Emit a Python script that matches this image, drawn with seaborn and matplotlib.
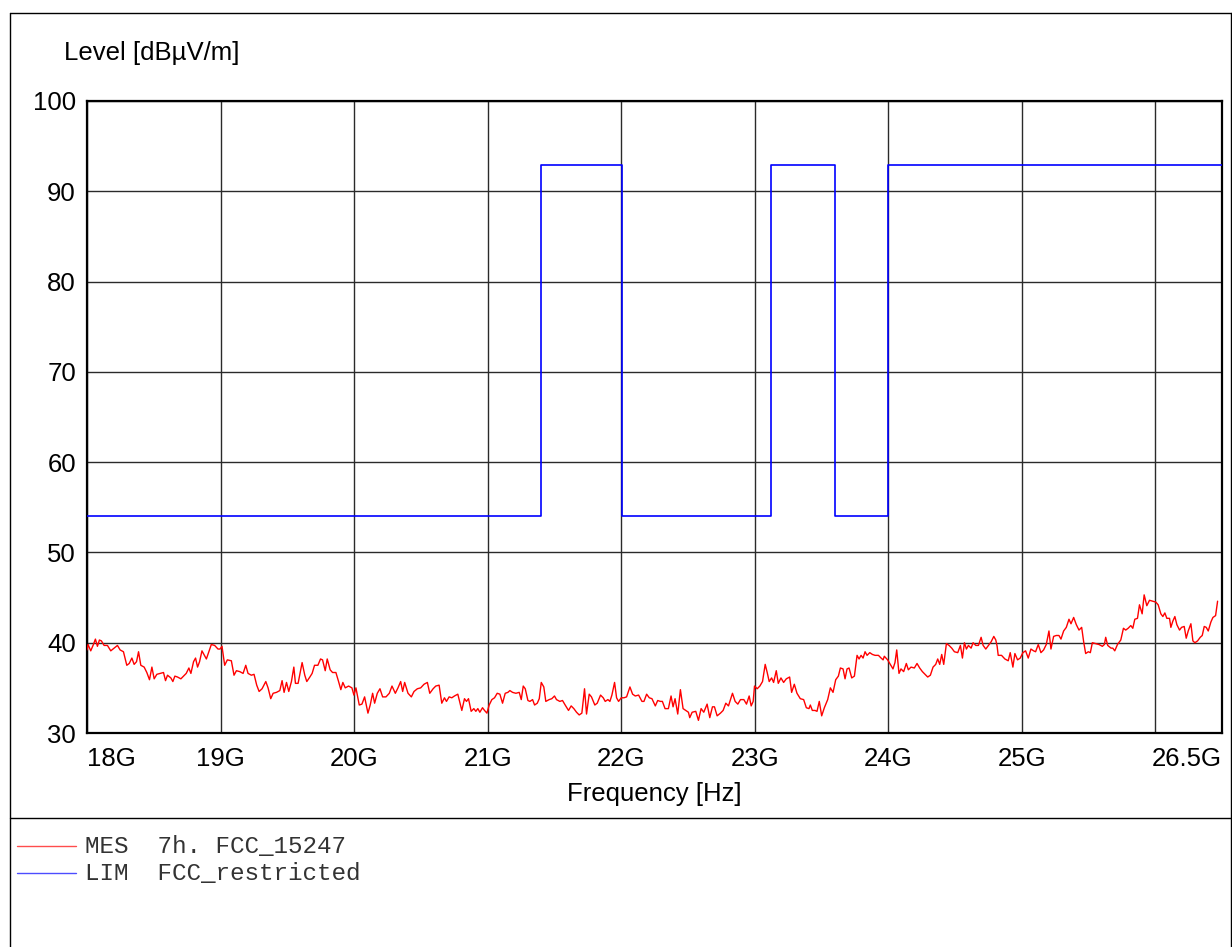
import matplotlib
matplotlib.use("Agg")
import matplotlib.pyplot as plt
from matplotlib.lines import Line2D
import seaborn as sns
import pandas as pd

# Measured emission trace (frequency in GHz, level in dBµV/m)
mes_freq = [
    18.000, 18.008, 18.028, 18.048, 18.063, 18.078, 18.093, 18.108, 18.128, 18.153,
    18.178, 18.203, 18.228, 18.248, 18.273, 18.298, 18.316, 18.336, 18.353, 18.371,
    18.386, 18.403, 18.428, 18.448, 18.468, 18.486, 18.503, 18.523, 18.548, 18.573,
    18.588, 18.603, 18.628, 18.643, 18.658, 18.678, 18.703, 18.723, 18.743, 18.763,
    18.778, 18.798, 18.813, 18.828, 18.843,
    18.861, 18.894, 18.931, 18.956, 18.981, 18.996, 19.011, 19.031, 19.051, 19.081,
    19.101, 19.119, 19.144, 19.169, 19.189, 19.206, 19.231, 19.251, 19.271, 19.289,
    19.311, 19.339, 19.356, 19.376, 19.394, 19.419, 19.444, 19.461, 19.476, 19.494,
    19.511, 19.531, 19.549, 19.561, 19.581, 19.611, 19.631, 19.646, 19.669, 19.686,
    19.704, 19.729, 19.749, 19.764, 19.784, 19.799, 19.821, 19.839, 19.864, 19.884,
    19.901, 19.916, 19.934, 19.959, 19.984, 19.999, 20.014, 20.039, 20.059, 20.079,
    20.104, 20.121, 20.139, 20.154, 20.174, 20.194, 20.214, 20.239, 20.264, 20.284,
    20.309, 20.329, 20.349, 20.364, 20.379, 20.404, 20.429, 20.449, 20.474, 20.499,
    20.524, 20.549,
    20.567, 20.592, 20.612, 20.637, 20.657, 20.677, 20.692, 20.712, 20.732, 20.752,
    20.777, 20.807, 20.827, 20.842, 20.857, 20.877, 20.897, 20.912, 20.927, 20.942,
    20.962, 20.977, 20.995, 21.012, 21.032, 21.052, 21.072, 21.092, 21.112, 21.132,
    21.152, 21.167, 21.187, 21.212, 21.237, 21.252, 21.267, 21.282, 21.302, 21.317,
    21.337, 21.352, 21.372, 21.387, 21.402,
    21.421, 21.436, 21.461, 21.481, 21.501, 21.516, 21.541, 21.561, 21.581, 21.606,
    21.626, 21.646, 21.666, 21.686, 21.706, 21.726, 21.741, 21.761, 21.778, 21.803,
    21.821, 21.846, 21.866, 21.881, 21.901, 21.916, 21.931, 21.951, 21.966, 21.981,
    22.001, 22.021, 22.041, 22.066, 22.086, 22.106, 22.131, 22.156, 22.171, 22.191,
    22.211, 22.231, 22.256,
    22.274, 22.294, 22.309, 22.329, 22.354, 22.374, 22.389, 22.404, 22.424, 22.444,
    22.464, 22.484, 22.504, 22.514, 22.532, 22.559, 22.579, 22.599, 22.619, 22.644,
    22.664, 22.684, 22.699, 22.719, 22.744, 22.764, 22.784, 22.804, 22.834, 22.854,
    22.874, 22.894, 22.919, 22.939, 22.959, 22.974, 22.989, 22.999, 23.019, 23.039,
    23.059, 23.079, 23.094, 23.109,
    23.127, 23.142, 23.162, 23.177, 23.197, 23.217, 23.237, 23.262, 23.277, 23.297,
    23.317, 23.342, 23.367, 23.387, 23.407, 23.417, 23.432, 23.452, 23.467, 23.484,
    23.502, 23.522, 23.547, 23.567, 23.587, 23.607, 23.627, 23.642, 23.662, 23.677,
    23.692, 23.707, 23.727, 23.747, 23.767, 23.782, 23.797, 23.812, 23.827, 23.842,
    23.862, 23.882, 23.902, 23.927, 23.947, 23.962,
    23.971, 23.996, 24.016, 24.036, 24.051, 24.064, 24.081, 24.096, 24.116, 24.136,
    24.151, 24.171, 24.196, 24.216, 24.236, 24.256, 24.276, 24.296, 24.316, 24.336,
    24.356, 24.371, 24.386, 24.401, 24.416, 24.436, 24.456, 24.476, 24.496, 24.521,
    24.541, 24.556, 24.571, 24.586, 24.601, 24.621, 24.636, 24.656, 24.676, 24.696,
    24.711, 24.731, 24.751, 24.771, 24.791, 24.806, 24.816,
    24.824, 24.849, 24.874, 24.899, 24.914, 24.934, 24.949, 24.969, 24.989, 25.009,
    25.029, 25.049, 25.069, 25.089, 25.104, 25.124, 25.144, 25.164, 25.184, 25.204,
    25.219, 25.239, 25.259, 25.279, 25.294, 25.314, 25.334, 25.354, 25.369, 25.389,
    25.409, 25.429, 25.449, 25.464, 25.479, 25.499, 25.514, 25.529, 25.554, 25.579,
    25.604, 25.619, 25.629, 25.644, 25.669,
    25.682, 25.697, 25.717, 25.742, 25.762, 25.779, 25.797, 25.817, 25.832, 25.847,
    25.867, 25.882, 25.902, 25.917, 25.937, 25.957, 25.982, 26.004, 26.022, 26.042,
    26.057, 26.072, 26.087, 26.107, 26.117, 26.132, 26.147, 26.162, 26.182, 26.197,
    26.217, 26.232, 26.247, 26.267, 26.282, 26.297, 26.317, 26.337, 26.352, 26.367,
    26.382, 26.397, 26.417, 26.432, 26.452, 26.467,
]
mes_level = [
    39.2, 39.8, 39.1, 39.8, 40.4, 39.6, 40.3, 40.2, 39.7, 39.7,
    39.1, 39.4, 39.7, 39.2, 39.0, 37.5, 37.7, 38.3, 37.6, 37.9,
    39.0, 37.5, 37.3, 36.7, 35.9, 37.3, 36.0, 36.5, 36.6, 36.7,
    35.8, 36.4, 36.1, 35.7, 36.3, 36.2, 36.0, 36.3, 36.6, 37.2,
    36.6, 37.9, 38.3, 37.3, 37.9,
    39.1, 38.2, 39.8, 39.7, 39.3, 39.3, 39.6, 37.5, 38.1, 38.0,
    36.4, 36.9, 36.8, 36.6, 37.5, 36.6, 36.4, 36.5, 35.3, 34.6,
    34.9, 35.7, 35.0, 33.8, 34.4, 34.5, 34.7, 35.8, 34.5, 35.6,
    34.6, 35.7, 37.3, 35.5, 35.5, 37.8, 36.4, 35.7, 36.2, 36.6,
    37.5, 37.5, 38.2, 38.1, 36.9, 38.2, 37.0, 36.7, 36.7, 35.7,
    34.8, 35.6, 35.0, 35.2, 35.0, 34.2, 35.0, 33.1, 33.2, 34.0,
    32.2, 33.1, 34.4, 33.3, 34.4, 34.9, 34.0, 34.0, 34.4, 35.2,
    34.4, 35.0, 35.7, 34.6, 35.6, 34.4, 34.0, 34.6, 34.9, 35.0,
    35.4, 35.6,
    34.4, 34.9, 35.2, 35.3, 33.3, 33.9, 33.5, 34.0, 33.9, 34.1,
    34.3, 32.5, 33.8, 33.5, 33.8, 32.4, 32.7, 32.4, 32.7, 32.3,
    32.8, 32.5, 32.2, 33.1, 33.7, 33.9, 34.4, 34.3, 33.3, 34.4,
    34.5, 34.7, 34.5, 34.4, 34.5, 33.7, 35.2, 34.9, 33.6, 33.5,
    33.7, 33.1, 33.3, 33.8, 35.6,
    35.1, 33.5, 33.7, 33.8, 34.1, 33.7, 33.5, 33.6, 33.1, 32.5,
    33.0, 32.7, 32.3, 32.0, 32.2, 34.9, 32.1, 34.3, 34.0, 33.1,
    33.3, 34.2, 33.9, 33.5, 33.7, 33.5, 34.2, 35.6, 33.9, 33.5,
    33.9, 33.9, 34.0, 35.1, 34.3, 34.1, 34.2, 33.5, 33.5, 34.3,
    33.9, 33.8, 33.0,
    33.6, 33.5, 33.5, 32.7, 32.7, 34.1, 32.9, 33.8, 32.1, 34.8,
    32.7, 32.5, 32.3, 31.7, 32.3, 32.4, 31.4, 32.7, 32.3, 33.2,
    31.7, 32.9, 32.9, 31.9, 32.2, 32.5, 33.3, 33.0, 34.4, 33.5,
    33.2, 33.7, 33.7, 33.2, 34.1, 33.0, 33.5, 35.2, 34.9, 35.2,
    35.7, 37.6, 36.7, 35.7,
    36.1, 35.6, 36.9, 35.5, 36.1, 35.6, 36.0, 36.2, 34.5, 35.4,
    34.4, 33.8, 33.7, 32.8, 32.7, 33.1, 32.5, 32.5, 32.4, 33.5,
    31.9, 32.8, 33.7, 35.0, 34.5, 35.9, 36.3, 37.2, 37.1, 36.0,
    37.1, 37.2, 36.1, 36.3, 38.6, 38.2, 38.6, 38.3, 39.0, 38.6,
    38.9, 38.7, 38.6, 38.6, 38.3, 38.1,
    38.5, 38.1, 37.6, 37.1, 37.8, 39.2, 36.6, 37.1, 36.8, 37.7,
    37.0, 37.3, 37.2, 37.7, 37.2, 36.8, 36.5, 36.2, 36.4, 37.3,
    37.6, 38.2, 37.6, 38.7, 37.6, 39.9, 39.7, 39.4, 39.0, 38.9,
    39.7, 38.3, 40.0, 39.3, 39.7, 39.4, 40.0, 39.7, 39.7, 40.6,
    39.7, 39.3, 39.7, 40.1, 40.7, 40.3, 39.6,
    38.6, 38.6, 38.2, 38.0, 38.9, 37.3, 38.8, 38.1, 38.3, 38.9,
    39.1, 38.3, 39.3, 39.1, 39.0, 39.8, 38.9, 39.2, 39.8, 41.3,
    39.3, 40.7, 40.8, 40.8, 40.4, 41.3, 41.7, 42.6, 42.1, 42.8,
    42.0, 41.4, 41.7, 40.1, 38.8, 39.0, 38.9, 40.0, 39.9, 39.8,
    39.6, 39.8, 40.6, 39.7, 39.4,
    39.4, 39.1, 39.8, 40.3, 41.6, 41.4, 41.6, 41.9, 41.6, 42.6,
    42.7, 44.2, 43.2, 45.3, 44.1, 44.7, 44.6, 44.5, 44.2, 43.2,
    42.9, 43.3, 42.7, 42.7, 41.7, 42.4, 42.9, 42.0, 41.4, 41.7,
    41.8, 40.5, 41.3, 42.1, 40.2, 40.0, 40.2, 40.6, 40.8, 41.8,
    41.7, 41.3, 42.3, 42.8, 43.0, 44.6,
]

# FCC restricted-band limit line (step breakpoints)
lim_freq = [18.0, 21.4, 22.01, 23.12, 23.6, 24.0, 26.5]
lim_level = [54.0, 92.9, 54.0, 92.9, 54.0, 92.9, 92.9]

x_ticks = [18, 19, 20, 21, 22, 23, 24, 25, 26, 26.5]
x_tick_labels = ["18G", "19G", "20G", "21G", "22G", "23G", "24G", "25G", "", "26.5G"]
y_ticks = [30, 40, 50, 60, 70, 80, 90, 100]

legend_entries = ["MES  7h. FCC_15247", "LIM  FCC_restricted"]

sns.set_theme(style="white")
plt.rcParams["font.family"] = ["Liberation Sans", "DejaVu Sans"]

W, H = 1232, 947
FS = 18.5
fig = plt.figure(figsize=(W / 100, H / 100), dpi=100)
fig.patch.set_facecolor("white")

ax = fig.add_axes([87 / W, 1 - 733 / H, (1222 - 87) / W, (733 - 101) / H])
ax.set_facecolor("white")

mes_df = pd.DataFrame({"freq": mes_freq, "level": mes_level})
lim_df = pd.DataFrame({"freq": lim_freq, "level": lim_level})

sns.lineplot(data=lim_df, x="freq", y="level", ax=ax, color="#0000ff",
             linewidth=1.2, drawstyle="steps-post", estimator=None, zorder=3)
sns.lineplot(data=mes_df, x="freq", y="level", ax=ax, color="#ff0000",
             linewidth=1.0, estimator=None, zorder=4)

ax.set_xlim(18, 26.5)
ax.set_ylim(30, 100)
ax.set_xticks(x_ticks)
ax.set_xticklabels(x_tick_labels)
ax.set_yticks(y_ticks)
ax.tick_params(axis="both", length=0, labelsize=FS, colors="black")
ax.tick_params(axis="x", pad=10)
ax.tick_params(axis="y", pad=8)

tl = ax.get_xticklabels()
tl[0].set_horizontalalignment("left")
tl[-1].set_horizontalalignment("right")

ax.grid(True, color="#2a2a2a", linewidth=1.0)
for sp in ax.spines.values():
    sp.set_visible(True)
    sp.set_color("black")
    sp.set_linewidth(1.6)

ax.set_xlabel("Frequency [Hz]", fontsize=FS, color="black", labelpad=8)
ax.set_ylabel("")
fig.text(64 / W, 1 - 53 / H, "Level [dBµV/m]", fontsize=FS,
         ha="left", va="center", color="black")

# Outer frame and separator above the legend block
def fig_line(x0, y0, x1, y1):
    fig.add_artist(Line2D([x0 / W, x1 / W], [1 - y0 / H, 1 - y1 / H],
                          color="black", linewidth=1.0))

fig_line(10, 13, 1232, 13)
fig_line(10, 13, 10, H)
fig_line(1231, 13, 1231, H)
fig_line(10, 818, 1232, 818)

# Legend rows: coloured sample line followed by monospaced description
legend_colors = ["#ff0000", "#0000ff"]
for i, (label, col) in enumerate(zip(legend_entries, legend_colors)):
    y = 846 + i * 27
    fig.add_artist(Line2D([17 / W, 76 / W], [1 - y / H, 1 - y / H],
                          color=col, linewidth=1.0, alpha=0.7))
    fig.text(85 / W, 1 - y / H, label, fontsize=17.5, family="Liberation Mono",
             ha="left", va="center", color="#333333")

fig.savefig("out.png", dpi=100)
